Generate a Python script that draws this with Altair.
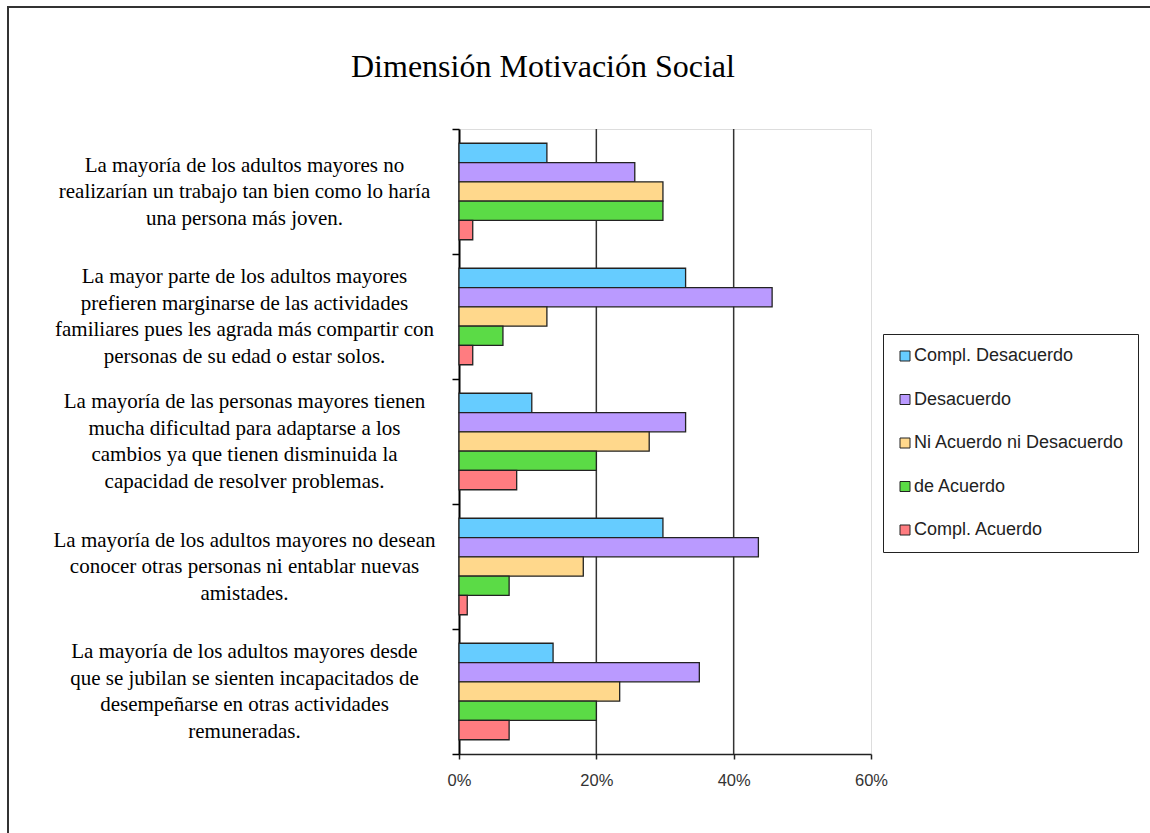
import altair as alt
import pandas as pd

questions = [
    "La mayoría de los adultos mayores no|realizarían un trabajo tan bien como lo haría|una persona más joven.",
    "La mayor parte de los adultos mayores|prefieren marginarse de las actividades|familiares pues les agrada más compartir con|personas de su edad o  estar solos.",
    "La mayoría de las personas mayores tienen|mucha dificultad para adaptarse a los|cambios ya que tienen disminuida la|capacidad de resolver problemas.",
    "La mayoría de los adultos mayores no desean|conocer otras personas ni entablar nuevas|amistades.",
    "La mayoría de los adultos mayores  desde|que se jubilan se sienten incapacitados de|desempeñarse en otras actividades|remuneradas.",
]
series = ["Compl. Desacuerdo", "Desacuerdo", "Ni Acuerdo ni Desacuerdo", "de Acuerdo", "Compl. Acuerdo"]
colors = ["#66CCFF", "#BA9AFF", "#FFD88C", "#5BDB46", "#FF7C80"]

compl_desacuerdo = [12.8, 33.0, 10.6, 29.7, 13.7]
desacuerdo = [25.6, 45.6, 33.0, 43.6, 35.0]
ni_ni = [29.7, 12.8, 27.7, 18.1, 23.4]
de_acuerdo = [29.7, 6.4, 20.0, 7.3, 20.0]
compl_acuerdo = [2.0, 2.0, 8.4, 1.2, 7.3]

x_ticks = [0, 20, 40, 60]
grid_values = [20, 40]

series_values = [compl_desacuerdo, desacuerdo, ni_ni, de_acuerdo, compl_acuerdo]
rows = []
for s, vals in zip(series, series_values):
    for q, v in zip(questions, vals):
        rows.append({"question": q, "series": s, "value": v})
df = pd.DataFrame(rows)

grid_df = pd.DataFrame({"v": grid_values})
frame_df = pd.DataFrame({"k": [0]})

LINE_H = 26.5

frame = alt.Chart(frame_df).mark_rect(filled=False, stroke="#333333", strokeWidth=2).encode(
    x=alt.value(-451), x2=alt.value(710), y=alt.value(-122), y2=alt.value(720)
)

grid = alt.Chart(grid_df).mark_rule(color="#333333", strokeWidth=1.5).encode(
    x=alt.X("v:Q", scale=alt.Scale(domain=[0, 60]))
)

bars = alt.Chart(df).mark_bar(stroke="#222222", strokeWidth=1.3).encode(
    y=alt.Y(
        "question:N",
        sort=questions,
        scale=alt.Scale(paddingInner=0, paddingOuter=0),
        axis=alt.Axis(
            title=None,
            labelExpr="split(datum.label, '|')",
            labelFont="Liberation Serif",
            labelFontSize=21,
            labelColor="#000000",
            labelAlign="center",
            labelBaseline="middle",
            labelPadding=208,
            labelLimit=600,
            labelLineHeight=LINE_H,
            labelOffset={
                "condition": {
                    "test": "length(split(datum.label, '|')) == 4",
                    "value": -1.5 * LINE_H,
                },
                "value": -1.0 * LINE_H,
            },
            tickSize=7,
            tickColor="#000000",
            tickWidth=1.5,
            tickBand="extent",
            domainColor="#000000",
            domainWidth=2,
            grid=False,
        ),
    ),
    yOffset=alt.YOffset("series:N", sort=series, scale=alt.Scale(paddingInner=0, paddingOuter=0.74)),
    x=alt.X(
        "value:Q",
        scale=alt.Scale(domain=[0, 60]),
        axis=alt.Axis(
            title=None,
            values=x_ticks,
            labelExpr="datum.value + '%'",
            labelFont="Liberation Sans",
            labelFontSize=16.5,
            labelColor="#333333",
            labelPadding=13,
            labelFlush=False,
            tickSize=5,
            tickColor="#222222",
            tickWidth=1.5,
            domainColor="#222222",
            domainWidth=1.5,
            grid=False,
        ),
    ),
    color=alt.Color(
        "series:N",
        sort=series,
        scale=alt.Scale(domain=series, range=colors),
        legend=alt.Legend(
            title=None,
            orient="none",
            legendX=424,
            legendY=205,
            padding=13,
            strokeColor="#222222",
            fillColor="#ffffff",
            symbolType="square",
            symbolSize=100,
            symbolStrokeColor="#222222",
            symbolStrokeWidth=1,
            labelFont="Liberation Sans",
            labelFontSize=18,
            labelColor="#222222",
            labelOffset=0,
            labelLimit=400,
            rowPadding=25.5,
        ),
    ),
)

chart = alt.layer(frame, grid, bars).properties(
    width=412,
    height=625,
    autosize=alt.AutoSizeParams(type="none"),
    padding={"left": 459, "top": 129, "right": 279, "bottom": 79},
    title=alt.TitleParams(
        text="Dimensión Motivación Social",
        anchor="start",
        frame="group",
        dx=-108,
        dy=103,
        offset=0,
        baseline="alphabetic",
        font="Liberation Serif",
        fontSize=32,
        fontWeight="normal",
        color="#000000",
    ),
).configure_view(stroke="#A0A0A0", strokeWidth=2, fill="#ffffff").configure(background="#ffffff")

chart.save("out.html", embed_options={"renderer": "svg", "actions": False})
